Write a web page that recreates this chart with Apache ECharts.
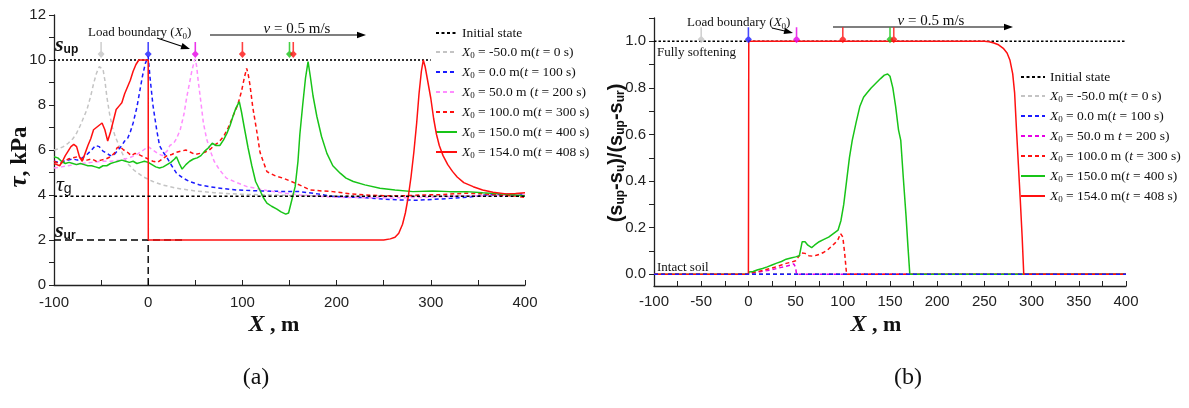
<!DOCTYPE html>
<html><head><meta charset="utf-8">
<script src="https://cdn.jsdelivr.net/npm/echarts@6/dist/echarts.min.js"></script>
<style>html,body{margin:0;padding:0;background:#fff}#c{width:1189px;height:408px}</style>
</head><body><div id="c"></div>
<script>
// ---------- DATA ----------
// Panel (a): shear stress tau (kPa) vs X (m)
const a_gray = [[-100,6.0],[-95,6.05],[-90,6.15],[-85,6.3],[-80,6.5],[-76,6.75],[-72,7.1],[-68,7.5],[-65,7.8],[-61,8.4],[-58,8.95],[-55,9.4],[-52,9.7],[-50,9.78],[-48,9.6],[-46,9.1],[-44,8.4],[-41,7.6],[-38,7.0],[-35,6.6],[-33,6.4],[-28,5.9],[-23,5.45],[-15,5.1],[-5,4.8],[5,4.6],[15,4.45],[30,4.3],[50,4.18],[70,4.1],[100,4.03],[150,3.98],[200,3.96],[250,3.95],[300,3.96],[350,3.97],[400,3.98]];
const a_blue = [[-100,5.5],[-95,5.45],[-90,5.5],[-85,5.55],[-80,5.6],[-75,5.55],[-70,5.65],[-65,5.8],[-60,6.0],[-56,6.2],[-52,6.15],[-48,5.95],[-44,5.85],[-40,5.75],[-36,5.8],[-32,6.0],[-28,6.2],[-25,6.4],[-22,6.5],[-19,6.8],[-16,7.2],[-12,7.9],[-9,8.6],[-6,9.3],[-3,9.85],[0,10.15],[2,9.2],[5,8.0],[9,6.9],[12,6.2],[16,5.9],[20,5.65],[25,5.3],[30,4.97],[37,4.75],[44,4.6],[55,4.44],[65,4.37],[80,4.28],[95,4.22],[120,4.18],[140,4.16],[161,4.15],[180,4.05],[196,3.93],[215,3.9],[231,3.88],[250,3.82],[267,3.78],[285,3.77],[302,3.8],[320,3.85],[338,3.9],[350,3.95],[355,4.0],[375,4.02],[400,4.05]];
const a_pink = [[-100,5.2],[-92,5.25],[-85,5.3],[-78,5.35],[-70,5.4],[-60,5.45],[-50,5.5],[-40,5.5],[-30,5.55],[-20,5.65],[-12,5.8],[-5,6.0],[0,6.15],[5,6.0],[10,5.85],[15,5.75],[20,5.95],[23,6.2],[27,6.3],[30,6.5],[34,6.9],[38,7.6],[41,8.37],[44,9.0],[46.5,9.55],[49,9.95],[50,10.05],[51.5,9.7],[53,9.1],[56,8.1],[58.6,7.2],[62,6.5],[65.6,6.0],[70,5.5],[76,5.1],[83,4.75],[94,4.55],[105,4.37],[126,4.2],[145,4.08],[161,4.0],[180,3.95],[196,3.9],[230,3.88],[260,3.87],[300,3.9],[330,3.95],[360,3.97],[400,4.0]];
const a_redDash = [[-100,5.5],[-95,5.4],[-90,5.45],[-85,5.6],[-80,5.65],[-75,5.7],[-70,5.6],[-65,5.55],[-60,5.6],[-55,5.5],[-50,5.55],[-45,5.6],[-40,5.7],[-36,5.85],[-33,6.1],[-30,6.15],[-26,6.0],[-22,5.9],[-18,5.75],[-14,5.85],[-10,5.8],[-5,5.7],[0,5.6],[5,5.5],[10,5.45],[15,5.6],[20,5.75],[25,5.8],[30,5.9],[35,5.95],[40,6.0],[45,5.9],[50,5.8],[55,5.85],[60,5.9],[65,6.0],[70,6.2],[75,6.35],[80,6.6],[85,7.0],[90,7.5],[95,8.0],[99,8.6],[102,9.2],[104.5,9.63],[106,9.4],[108,8.9],[111,7.9],[115,6.9],[118.7,5.9],[122,5.5],[126,5.04],[135,4.85],[143,4.75],[152,4.6],[161,4.44],[172,4.22],[185,4.18],[196,4.15],[215,4.05],[231,4.0],[250,3.97],[267,3.96],[290,4.0],[310,4.02],[338,4.08],[355,4.05],[373,4.0],[390,3.95],[400,3.9]];
const a_green = [[-100,5.7],[-96,5.65],[-92,5.5],[-88,5.4],[-84,5.45],[-80,5.4],[-76,5.35],[-72,5.4],[-68,5.35],[-64,5.3],[-60,5.3],[-56,5.25],[-52,5.2],[-48,5.3],[-44,5.3],[-40,5.4],[-36,5.45],[-32,5.5],[-28,5.55],[-24,5.5],[-20,5.45],[-16,5.5],[-12,5.4],[-8,5.45],[-4,5.5],[0,5.45],[4,5.35],[8,5.25],[12,5.2],[16,5.25],[20,5.35],[24,5.45],[28,5.6],[30,5.7],[33,5.4],[36,5.15],[40,5.35],[44,5.5],[48,5.6],[52,5.65],[56,5.75],[60,5.95],[64,6.1],[68,6.3],[72,6.2],[76,6.2],[80,6.45],[83.5,6.74],[87,7.1],[90,7.5],[93,7.85],[96.7,8.15],[99,7.7],[102,7.0],[106,6.1],[110,5.3],[114,4.6],[118.7,4.2],[122,3.9],[126,3.64],[131,3.5],[136.6,3.37],[141,3.25],[146,3.15],[149,3.2],[152,3.7],[156,4.37],[159,5.5],[161,6.7],[164,8.0],[167,9.2],[169.7,9.93],[172,9.3],[175,8.4],[179,7.5],[184,6.6],[189.7,5.85],[196,5.3],[203.8,4.97],[210,4.75],[217.7,4.6],[230,4.45],[246,4.3],[262,4.22],[281,4.15],[302,4.18],[320,4.15],[338,4.15],[355,4.1],[373,4.05],[390,4.0],[400,3.96]];
const a_red = [[-100,5.4],[-97,5.35],[-94,5.3],[-91,5.5],[-88,5.75],[-85,5.95],[-82,6.15],[-79,6.25],[-76,6.15],[-73,5.7],[-70,5.5],[-67,5.85],[-64,6.2],[-61,6.5],[-58,6.9],[-55,7.0],[-52,7.1],[-49,7.2],[-46,6.9],[-43,6.4],[-40,6.8],[-37,7.3],[-34,7.8],[-31,7.95],[-28,8.1],[-25,8.5],[-22,8.8],[-19,9.1],[-16,9.5],[-13,9.8],[-10,10.0],[-5,10.0],[0,10.0],[0.1,2.0],[50,2.0],[100,2.0],[150,2.0],[200,2.0],[250,2.0],[257,2.05],[262,2.12],[266,2.3],[270,2.7],[273,3.2],[276,3.9],[279,4.8],[282,5.9],[285,7.2],[287.5,8.5],[290,9.5],[292,10.0],[294,9.7],[297,9.0],[300,8.3],[303,7.4],[306,6.7],[309,6.2],[313,5.75],[318,5.35],[323,5.05],[328,4.8],[335,4.55],[345,4.37],[355,4.22],[366,4.12],[380,4.05],[390,4.07],[400,4.1]];
const a_initial = [[-100,3.95],[400,3.95]];
const a_sup = [[-100,10],[300,10]];
const a_sur = [[-100,2],[38,2]];
const a_x0line = [[0,0],[0,2]];

// Panel (b): softening degree vs X (m)
const b_gray = [[-100,0],[400,0]];
const b_blue = [[-100,0],[400,0]];
const b_initial = [[-100,0],[400,0]];
const b_full = [[-100,1],[400,1]];
const b_magenta = [[-100,0],[0,0],[0.5,0.005],[5,0.007],[10,0.01],[15,0.013],[20,0.016],[25,0.02],[30,0.025],[35,0.03],[40,0.035],[45,0.04],[48,0.045],[50,0.03],[51,0],[400,0]];
const b_redDash = [[-100,0],[0,0],[0.5,0.005],[5,0.008],[10,0.012],[15,0.017],[20,0.022],[25,0.027],[30,0.033],[35,0.04],[40,0.047],[45,0.052],[50,0.058],[53,0.075],[56,0.092],[60,0.09],[64,0.08],[68,0.078],[72,0.082],[76,0.087],[80,0.095],[84,0.105],[88,0.12],[92,0.135],[95,0.15],[97.6,0.175],[100,0.16],[102,0.09],[104,0],[400,0]];
const b_green = [[-100,0],[0,0],[0.5,0.01],[5,0.012],[10,0.02],[15,0.025],[20,0.032],[25,0.04],[30,0.048],[35,0.055],[40,0.065],[45,0.07],[50,0.075],[54,0.08],[57,0.14],[60,0.14],[63,0.125],[67,0.115],[70,0.125],[75,0.14],[80,0.15],[85,0.16],[90,0.175],[95,0.19],[98,0.23],[101,0.3],[104,0.4],[107,0.5],[110,0.575],[114,0.65],[118,0.72],[122,0.76],[126,0.78],[130,0.8],[135,0.82],[140,0.84],[144,0.855],[147.5,0.86],[150,0.85],[153,0.8],[156,0.72],[159,0.62],[161.4,0.575],[164,0.42],[167,0.25],[169,0.12],[171,0],[400,0]];
const b_red = [[-100,0],[0,0],[0.4,1.0],[250,1.0],[255,0.998],[260,0.993],[265,0.985],[270,0.97],[274,0.95],[277,0.92],[280,0.86],[282,0.78],[284,0.62],[286,0.47],[288,0.32],[290,0.16],[291.7,0],[400,0]];

// Load boundary positions X0 (m)
const a_markerX = [-50, 0, 50, 100, 150, 154];
const b_markerX = [-50, 0, 51, 100, 150, 154];

// Legend labels
const a_names = ['Initial state','X0 = -50.0 m(t = 0 s)','X0 = 0.0 m(t = 100 s)','X0 = 50.0 m (t = 200 s)','X0 = 100.0 m(t = 300 s)','X0 = 150.0 m(t = 400 s)','X0 = 154.0 m(t = 408 s)'];
const b_names = ['Initial state','X0 = -50.0 m(t = 0 s)','X0 = 0.0 m(t = 100 s)','X0 = 50.0 m t = 200 s)','X0 = 100.0 m (t = 300 s)','X0 = 150.0 m(t = 400 s)','X0 = 154.0 m(t = 408 s)'];

// Tick values
const a_xLabels = [-100,0,100,200,300,400];
const a_xTicks = [-100,-50,0,50,100,150,200,250,300,350,400];
const a_yLabels = [0,2,4,6,8,10,12];
const a_yTicks = [0,1,2,3,4,5,6,7,8,9,10,11,12];
const b_xLabels = [-100,-50,0,50,100,150,200,250,300,350,400];
const b_xTicks = [-100,-75,-50,-25,0,25,50,75,100,125,150,175,200,225,250,275,300,325,350,375,400];
const b_yLabels = [0,0.2,0.4,0.6,0.8,1.0];
const b_yTicks = [0,0.1,0.2,0.3,0.4,0.5,0.6,0.7,0.8,0.9,1.0,1.1];

// ---------- STYLE ----------
const SERIF = "'Liberation Serif','Times New Roman',serif";
const SANS = "'Liberation Sans',Arial,sans-serif";
const C = {gray:'#c4c4c4', blue:'#1a1aff', pink:'#ff8cff', magenta:'#e600e6', red:'#ff1010', green:'#18c418', black:'#000'};
const DASH = [4,3];
const markerColorsA = [C.gray, C.blue, C.magenta, C.red, C.green, C.red];
const markerColorsB = [C.gray, C.blue, C.magenta, C.red, C.green, C.red];
const markerPath = 'path://M-0.45,0L0.45,0L0.45,8L2,10.5L0,14L-2,10.5L-0.45,8Z';

function ln(name, data, color, type, idx, z, w) {
  return {type:'line', name: name, data: data, xAxisIndex: idx, yAxisIndex: idx,
    symbol:'none', lineStyle:{color: color, width: w || 1.5, type: type},
    itemStyle:{color: color}, z: z || 2, silent: true, animation: false};
}
function markers(xs, level, colors, idx) {
  return {type:'scatter', data: xs.map(x => [x, level]), xAxisIndex: idx, yAxisIndex: idx,
    symbol: markerPath, symbolSize:[7,16], silent: true, animation:false, z: 10,
    itemStyle:{color: p => colors[p.dataIndex]}};
}

const richLeg = {
  i:{fontFamily:SERIF, fontStyle:'italic', fontSize:13.5, lineHeight:16},
  s:{fontFamily:SERIF, fontSize:9, lineHeight:9, verticalAlign:'bottom'}
};
function legFmt(n){ return n.replace('X0','{i|X}{s|0}').replace('(t =','({i|t} =').replace(' t =',' {i|t} ='); }

function axisCommon(){
  return {axisLine:{show:true, onZero:false, lineStyle:{color:'#222', width:1.3}},
    splitLine:{show:false}};
}

const series = [
  // panel a
  ln(null, a_sup, C.black, [2,2], 0, 3, 1.6),
  ln(null, a_sur, C.black, [7,4], 0, 3, 1.4),
  ln(null, a_x0line, C.black, [7,4], 0, 3, 1.4),
  ln(a_names[1], a_gray, C.gray, DASH, 0, 4),
  ln(a_names[2], a_blue, C.blue, DASH, 0, 5),
  ln(a_names[3], a_pink, C.pink, DASH, 0, 5),
  ln(a_names[4], a_redDash, C.red, DASH, 0, 6),
  ln(a_names[5], a_green, C.green, 'solid', 0, 7),
  ln(a_names[6], a_red, C.red, 'solid', 0, 8),
  ln(a_names[0], a_initial, C.black, [3,2.5], 0, 9, 1.5),
  markers(a_markerX, 10.44, markerColorsA, 0),
  // panel b
  ln(null, b_full, C.black, [2.5,2], 1, 3, 1.4),
  ln(b_names[0], b_initial, C.black, DASH, 1, 3),
  ln(b_names[1], b_gray, C.gray, DASH, 1, 4),
  ln(b_names[3], b_magenta, C.magenta, DASH, 1, 6),
  ln(b_names[4], b_redDash, C.red, DASH, 1, 6),
  ln(b_names[5], b_green, C.green, 'solid', 1, 7),
  ln(b_names[6], b_red, C.red, 'solid', 1, 8),
  ln(b_names[2], b_blue, C.blue, DASH, 1, 9),
  markers(b_markerX, 1.026, markerColorsB, 1)
];

function arrow(x1,y1,x2,y2){
  const a = Math.atan2(y2-y1, x2-x1), L = 9, W = 3.2;
  const cx = Math.cos(a), sy = Math.sin(a);
  return [
    {type:'line', silent:true, shape:{x1:x1, y1:y1, x2:x2-L*0.7*cx, y2:y2-L*0.7*sy}, style:{stroke:'#000', lineWidth:1.1}},
    {type:'polygon', silent:true, shape:{points:[[x2,y2],[x2-L*cx+W*sy, y2-L*sy-W*cx],[x2-L*cx-W*sy, y2-L*sy+W*cx]]}, style:{fill:'#000'}}
  ];
}
function txt(x,y,text,o){
  return Object.assign({type:'text', silent:true, x:x, y:y, style:Object.assign({text:text, fill:'#111', fontFamily:SERIF, fontSize:13, align:'left', verticalAlign:'middle'}, o||{})});
}
const richSym = {
  b:{fontFamily:SERIF, fontStyle:'italic', fontWeight:'bold', fontSize:22},
  t:{fontFamily:SERIF, fontStyle:'italic', fontSize:22},
  s:{fontFamily:SANS, fontWeight:'bold', fontSize:12, verticalAlign:'bottom', lineHeight:12},
  g:{fontFamily:SANS, fontSize:14, verticalAlign:'bottom', lineHeight:14}
};
const richSmall = {
  i:{fontFamily:SERIF, fontStyle:'italic', fontSize:13},
  s:{fontFamily:SERIF, fontSize:9, verticalAlign:'bottom', lineHeight:9},
  v:{fontFamily:SERIF, fontStyle:'italic', fontSize:15}
};

const graphics = [].concat(
  arrow(210,35,366,35), arrow(157,38,190,49),
  arrow(833,27,1013,27), arrow(772,28,793,33),
  [
    txt(88,33,'Load boundary ({i|X}{s|0})',{rich:richSmall, lineHeight:16}),
    txt(297,29,'{v|v} = 0.5 m/s',{fontSize:15, align:'center', rich:richSmall, lineHeight:18}),
    txt(687,23,'Load boundary ({i|X}{s|0})',{rich:richSmall, lineHeight:16}),
    txt(931,21,'{v|v} = 0.5 m/s',{fontSize:15, align:'center', rich:richSmall, lineHeight:18}),
    txt(657,53,'Fully softening'),
    txt(657,268,'Intact soil'),
    txt(55,45,'{b|s}{s|up}',{rich:richSym, lineHeight:22}),
    txt(56,185,'{t|τ}{g|g}',{rich:richSym, lineHeight:22}),
    txt(55,231,'{b|s}{s|ur}',{rich:richSym, lineHeight:22}),
    txt(256,378,'(a)',{fontSize:24, align:'center'}),
    txt(908,378,'(b)',{fontSize:24, align:'center'}),
    txt(274,325,'{x|X} , m',{fontSize:22, fontWeight:'bold', align:'center',
      rich:{x:{fontFamily:SERIF, fontStyle:'italic', fontWeight:'bold', fontSize:24}}}),
    txt(876,325,'{x|X} , m',{fontSize:22, fontWeight:'bold', align:'center',
      rich:{x:{fontFamily:SERIF, fontStyle:'italic', fontWeight:'bold', fontSize:24}}}),
    Object.assign(txt(20,157,'{t|τ}, kPa',{fontSize:23, fontWeight:'bold', align:'center',
      rich:{t:{fontFamily:SERIF, fontStyle:'italic', fontWeight:'bold', fontSize:25}}}), {rotation:Math.PI/2}),
    Object.assign(txt(616,153,'(s{s|up}-s{s|u})/(s{s|up}-s{s|ur})',{fontFamily:SANS, fontSize:20, fontWeight:'bold', align:'center', lineHeight:22,
      rich:{s:{fontFamily:SANS, fontSize:12, fontWeight:'bold', verticalAlign:'bottom', lineHeight:12}}}), {rotation:Math.PI/2})
  ]
);

const chart = echarts.init(document.getElementById('c'), null, {renderer:'canvas'});
chart.setOption({
  animation:false,
  backgroundColor:'#fff',
  grid:[
    {left:54, right:1189-525, top:15, bottom:408-285},
    {left:654, right:1189-1126, top:18, bottom:408-286}
  ],
  xAxis:[
    Object.assign(axisCommon(), {type:'value', gridIndex:0, min:-100, max:400,
      axisTick:{show:true, inside:true, length:5, customValues:a_xTicks, lineStyle:{color:'#222'}},
      axisLabel:{customValues:a_xLabels, margin:10, fontFamily:SANS, fontSize:15, color:'#222'}}),
    Object.assign(axisCommon(), {type:'value', gridIndex:1, min:-100, max:400,
      axisTick:{show:true, inside:true, length:5, customValues:b_xTicks, lineStyle:{color:'#222'}},
      axisLabel:{customValues:b_xLabels, margin:8, fontFamily:SANS, fontSize:15, color:'#222'}})
  ],
  yAxis:[
    Object.assign(axisCommon(), {type:'value', gridIndex:0, min:0, max:12,
      axisTick:{show:true, inside:false, length:5, customValues:a_yTicks, lineStyle:{color:'#222'}},
      axisLabel:{customValues:a_yLabels, margin:8, fontFamily:SANS, fontSize:15, color:'#222'}}),
    Object.assign(axisCommon(), {type:'value', gridIndex:1, min:-0.05, max:1.1,
      axisTick:{show:true, inside:false, length:5, customValues:b_yTicks, lineStyle:{color:'#222'}},
      axisLabel:{customValues:b_yLabels, margin:8, fontFamily:SANS, fontSize:15, color:'#222',
        formatter: v => v.toFixed(1)}})
  ],
  legend:[
    {data:a_names, orient:'vertical', left:435, top:26, padding:0, itemWidth:21, itemHeight:14, itemGap:5,
      selectedMode:false, formatter:legFmt, itemStyle:{opacity:0},
      textStyle:{fontFamily:SERIF, fontSize:13.5, color:'#111', rich:richLeg}},
    {data:b_names, orient:'vertical', left:1020, top:70, padding:0, itemWidth:24, itemHeight:14, itemGap:5,
      selectedMode:false, formatter:legFmt, itemStyle:{opacity:0},
      textStyle:{fontFamily:SERIF, fontSize:13.5, color:'#111', rich:richLeg}}
  ],
  series: series,
  graphic: graphics
});
</script>
</body></html>
